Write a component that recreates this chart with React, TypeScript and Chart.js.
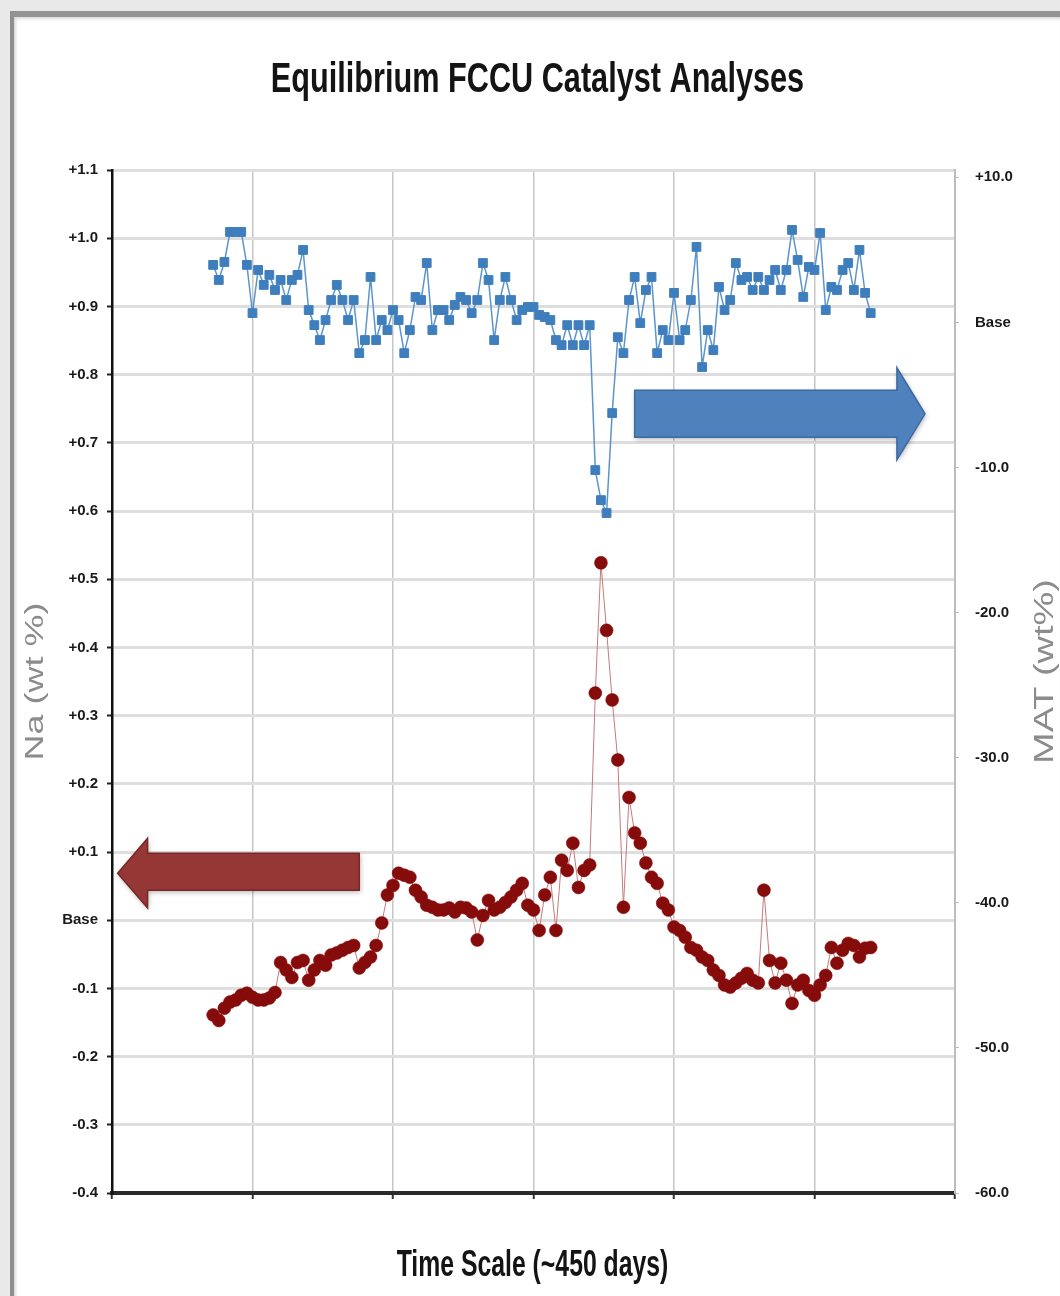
import React, { useEffect, useRef } from 'react';
import { Chart, registerables } from 'chart.js';

Chart.register(...registerables);

const TITLE = 'Equilibrium FCCU Catalyst Analyses';
const X_TITLE = 'Time Scale (~450 days)';
const Y_LEFT_TITLE = 'Na (wt %)';
const Y_RIGHT_TITLE = 'MAT (wt%)';

// time axis (days) of each sample
const days = [
  54, 57, 60, 63, 66, 69, 72, 75, 78, 81, 84, 87, 90, 93, 96, 99, 102, 105, 108, 111,
  114, 117, 120, 123, 126, 129, 132, 135, 138, 141, 144, 147, 150, 153, 156, 159, 162, 165, 168, 171,
  174, 177, 180, 183, 186, 189, 192, 195, 198, 201, 204, 207, 210, 213, 216, 219, 222, 225, 228, 231,
  234, 237, 240, 243, 246, 249, 252, 255, 258, 261, 264, 267, 270, 273, 276, 279, 282, 285, 288, 291,
  294, 297, 300, 303, 306, 309, 312, 315, 318, 321, 324, 327, 330, 333, 336, 339, 342, 345, 348, 351,
  354, 357, 360, 363, 366, 369, 372, 375, 378, 381, 384, 387, 390, 393, 396, 399, 402, 405,
];

// MAT (wt%) relative to base, right axis
const matValues = [
  3.96, 2.92, 4.16, 6.23, 6.23, 6.23, 3.96, 0.64, 3.61, 2.58, 3.27, 2.23, 2.92, 1.54, 2.92, 3.27, 4.99, 0.85, -0.19, -1.22,
  0.16, 1.54, 2.58, 1.54, 0.16, 1.54, -2.12, -1.22, 3.13, -1.22, 0.16, -0.53, 0.85, 0.16, -2.12, -0.53, 1.75, 1.54, 4.09, -0.53,
  0.85, 0.85, 0.16, 1.2, 1.75, 1.54, 0.64, 1.54, 4.09, 2.92, -1.22, 1.54, 3.13, 1.54, 0.16, 0.85, 1.06, 1.06, 0.51, 0.37,
  0.16, -1.22, -1.57, -0.19, -1.57, -0.19, -1.57, -0.19, -10.18, -12.25, -13.14, -6.25, -1.02, -2.12, 1.54, 3.13, -0.05, 2.23, 3.13, -2.12,
  -0.53, -1.22, 2.03, -1.22, -0.53, 1.54, 5.2, -3.08, -0.53, -1.91, 2.44, 0.85, 1.54, 4.09, 2.92, 3.13, 2.23, 3.13, 2.23, 2.92,
  3.61, 2.23, 3.61, 6.37, 4.3, 1.75, 3.82, 3.61, 6.16, 0.85, 2.44, 2.23, 3.61, 4.09, 2.23, 4.99, 2.03, 0.64,
];

// Na (wt %) relative to base, left axis
const naValues = [
  -0.139, -0.147, -0.129, -0.12, -0.117, -0.11, -0.107, -0.113, -0.117, -0.117, -0.114, -0.106, -0.062, -0.073, -0.084, -0.062, -0.059, -0.088, -0.073, -0.059,
  -0.066, -0.051, -0.048, -0.044, -0.04, -0.037, -0.07, -0.062, -0.054, -0.037, -0.004, 0.037, 0.051, 0.069, 0.066, 0.063, 0.044, 0.034, 0.022, 0.019,
  0.015, 0.015, 0.018, 0.012, 0.019, 0.018, 0.012, -0.029, 0.007, 0.029, 0.015, 0.019, 0.026, 0.034, 0.044, 0.054, 0.022, 0.015, -0.015, 0.037,
  0.063, -0.015, 0.088, 0.073, 0.113, 0.048, 0.073, 0.081, 0.333, 0.524, 0.425, 0.323, 0.235, 0.019, 0.18, 0.128, 0.113, 0.084, 0.063, 0.054,
  0.025, 0.015, -0.01, -0.015, -0.025, -0.04, -0.044, -0.054, -0.059, -0.073, -0.081, -0.095, -0.098, -0.092, -0.085, -0.078, -0.088, -0.092, 0.044, -0.059,
  -0.092, -0.063, -0.088, -0.122, -0.095, -0.088, -0.103, -0.11, -0.095, -0.081, -0.04, -0.063, -0.044, -0.034, -0.037, -0.054, -0.041, -0.04,
];

// axis ranges
const NA_RANGE = [-0.4, 1.1];
const NA_STEP = 0.1;
const MAT_RANGE = [-60, 10.5];
const MAT_STEP = 10;
const DAY_RANGE = [0, 450];
const DAY_STEP = 75;

// arrow annotations, in data units (x: days, y: Na wt %)
const matArrow = { tail: 279, headBase: 419, tip: 434, bodyTop: 0.777, bodyBottom: 0.708, headTop: 0.81, headBottom: 0.675 };
const naArrow = { tail: 132, headBase: 19, tip: 3, bodyTop: 0.098, bodyBottom: 0.044, headTop: 0.12, headBottom: 0.018 };

const SANS = "'Liberation Sans', Arial, sans-serif";

function drawArrow(ctx: CanvasRenderingContext2D, xs: any, ys: any, a: any, fill: string, stroke: string) {
  const tx = xs.getPixelForValue(a.tail);
  const hb = xs.getPixelForValue(a.headBase);
  const tip = xs.getPixelForValue(a.tip);
  const bt = ys.getPixelForValue(a.bodyTop);
  const bb = ys.getPixelForValue(a.bodyBottom);
  const ht = ys.getPixelForValue(a.headTop);
  const hbt = ys.getPixelForValue(a.headBottom);
  ctx.save();
  ctx.beginPath();
  ctx.moveTo(tx, bt);
  ctx.lineTo(hb, bt);
  ctx.lineTo(hb, ht);
  ctx.lineTo(tip, (ht + hbt) / 2);
  ctx.lineTo(hb, hbt);
  ctx.lineTo(hb, bb);
  ctx.lineTo(tx, bb);
  ctx.closePath();
  ctx.shadowColor = 'rgba(0,0,0,0.3)';
  ctx.shadowBlur = 5;
  ctx.shadowOffsetX = 1;
  ctx.shadowOffsetY = 2;
  ctx.fillStyle = fill;
  ctx.fill();
  ctx.shadowColor = 'transparent';
  ctx.lineWidth = 1.5;
  ctx.strokeStyle = stroke;
  ctx.stroke();
  ctx.restore();
}

// text drawn with a horizontal squeeze (the original's lettering is condensed)
function drawText(
  ctx: CanvasRenderingContext2D, text: string, x: number, y: number, font: string, color: string,
  squeeze: number, rotated: boolean, baseline: CanvasTextBaseline,
) {
  ctx.save();
  ctx.translate(x, y);
  if (rotated) {
    ctx.rotate(-Math.PI / 2);
    ctx.scale(1, squeeze);
  } else {
    ctx.scale(squeeze, 1);
  }
  ctx.font = font;
  ctx.fillStyle = color;
  ctx.textAlign = 'center';
  ctx.textBaseline = baseline;
  ctx.fillText(text, 0, 0);
  ctx.restore();
}

const decorPlugin = {
  id: 'decor',
  afterDatasetsDraw(chart: any) {
    const { ctx, scales } = chart;
    drawArrow(ctx, scales.x, scales.y, matArrow, '#4f81bd', '#3d6aa0');
    drawArrow(ctx, scales.x, scales.y, naArrow, '#953735', '#772826');
  },
  afterDraw(chart: any) {
    const { ctx, chartArea } = chart;
    const cx = (chartArea.left + chartArea.right) / 2;
    const cy = (chartArea.top + chartArea.bottom) / 2;
    drawText(ctx, TITLE, cx + 4, chartArea.top - 78, `bold 42px ${SANS}`, '#141414', 0.73, false, 'alphabetic');
    drawText(ctx, X_TITLE, cx - 1, chart.height - 20, `bold 37px ${SANS}`, '#141414', 0.67, false, 'alphabetic');
    drawText(ctx, Y_LEFT_TITLE, 36, cy, `36px ${SANS}`, '#8c8c8c', 0.72, true, 'middle');
    drawText(ctx, Y_RIGHT_TITLE, chart.width - 15, cy - 10, `38px ${SANS}`, '#8c8c8c', 0.72, true, 'middle');
  },
};

function fmtNa(v: number) {
  const r = Math.round(v * 10) / 10;
  if (Math.abs(r) < 1e-9) return 'Base';
  return (r > 0 ? '+' : '') + r.toFixed(1);
}
function fmtMat(v: number) {
  const r = Math.round(v);
  if (r === 0) return 'Base';
  return (r > 0 ? '+' : '') + r.toFixed(1);
}

export default function App() {
  const ref = useRef<HTMLCanvasElement | null>(null);

  useEffect(() => {
    if (!ref.current) return;
    const tickFont = { family: SANS, size: 15, weight: 'bold' as const };
    const chart = new Chart(ref.current, {
      type: 'line',
      data: {
        datasets: [
          {
            label: 'MAT',
            data: days.map((d, i) => ({ x: d, y: matValues[i] })),
            yAxisID: 'y1',
            borderColor: '#5b95cc',
            borderWidth: 1.5,
            pointStyle: 'rect',
            pointRadius: 6.2,
            pointBackgroundColor: '#3f7ebd',
            pointBorderColor: '#3f7ebd',
            pointBorderWidth: 1,
            tension: 0,
          },
          {
            label: 'Na',
            data: days.map((d, i) => ({ x: d, y: naValues[i] })),
            yAxisID: 'y',
            borderColor: '#c67a7a',
            borderWidth: 1,
            pointStyle: 'circle',
            pointRadius: 6.5,
            pointBackgroundColor: '#860b0b',
            pointBorderColor: '#860b0b',
            pointBorderWidth: 0.5,
            tension: 0,
          },
        ],
      },
      options: {
        animation: false,
        responsive: false,
        devicePixelRatio: 1,
        layout: { padding: { top: 170, left: 0, right: 0, bottom: 0 } },
        plugins: {
          legend: { display: false },
          tooltip: { enabled: false },
          title: { display: false, text: TITLE },
        },
        scales: {
          x: {
            type: 'linear',
            min: DAY_RANGE[0],
            max: DAY_RANGE[1],
            ticks: { stepSize: DAY_STEP, display: false },
            grid: { color: '#c6c6c6', lineWidth: 1.5, tickLength: 6, tickColor: '#333', tickWidth: 2 },
            border: { color: '#2a2a2a', width: 4 },
            title: { display: false, text: X_TITLE },
            afterFit: (s: any) => { s.height = 103; },
          },
          y: {
            type: 'linear',
            position: 'left',
            min: NA_RANGE[0],
            max: NA_RANGE[1],
            ticks: { stepSize: NA_STEP, callback: (v: any) => fmtNa(Number(v)), font: tickFont, color: '#1a1a1a', padding: 9 },
            grid: { color: '#dedede', lineWidth: 3, tickLength: 5, tickColor: '#222', tickWidth: 2 },
            border: { color: '#111', width: 2.5 },
            title: { display: false, text: Y_LEFT_TITLE },
            afterFit: (s: any) => { s.width = 112; },
          },
          y1: {
            type: 'linear',
            position: 'right',
            min: MAT_RANGE[0],
            max: MAT_RANGE[1],
            ticks: { stepSize: MAT_STEP, includeBounds: false, callback: (v: any) => fmtMat(Number(v)), font: tickFont, color: '#1a1a1a', padding: 16 },
            grid: { drawOnChartArea: false, tickLength: 4, tickColor: '#bbbbbb' },
            border: { color: '#bdbdbd', width: 2 },
            title: { display: false, text: Y_RIGHT_TITLE },
            afterFit: (s: any) => { s.width = 105; },
          },
        },
      } as any,
      plugins: [decorPlugin],
    });
    return () => chart.destroy();
  }, []);

  return (
    <div style={{ position: 'absolute', left: 0, top: 0, width: 1060, height: 1296, background: '#e9e9e9', overflow: 'hidden' }}>
      <div
        style={{
          position: 'absolute',
          left: 10,
          top: 11,
          right: 0,
          bottom: 0,
          background: '#ffffff',
          borderLeft: '4px solid #8e8e8e',
          borderTop: '6px solid #939393',
          boxShadow: 'inset 2px 2px 3px rgba(0,0,0,0.15)',
        }}
      />
      <canvas ref={ref} width={1060} height={1296} style={{ position: 'absolute', left: 0, top: 0 }} />
    </div>
  );
}
